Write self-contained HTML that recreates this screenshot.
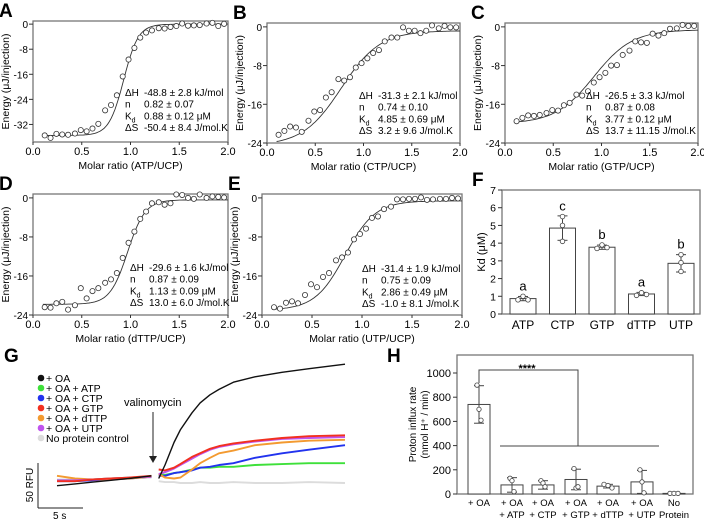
<!DOCTYPE html>
<html><head><meta charset="utf-8"><style>
body{margin:0;background:#fff}
svg{display:block;font-family:"Liberation Sans",Arial,sans-serif}
</style></head><body>
<svg id="fig" width="704" height="521" viewBox="0 0 704 521" xmlns="http://www.w3.org/2000/svg"></svg>
<script>
// ---------- ITC data ----------
const molarX=[0.12,0.18,0.24,0.3,0.36,0.43,0.49,0.55,0.61,0.67,0.74,0.8,0.86,0.92,0.98,1.04,1.1,1.16,1.22,1.29,1.35,1.41,1.47,1.53,1.59,1.65,1.71,1.78,1.84,1.9,1.96];
const itcA=[-35.5,-36.3,-35,-35.2,-35.3,-34.9,-33.8,-34.2,-33.3,-31.8,-27.5,-25.8,-22.7,-16.7,-11.3,-7.6,-4.3,-2.7,-2.0,-1.3,-1.4,-0.9,-0.6,0.2,-0.5,-0.4,-0.3,0.2,0.4,-0.6,0.1];
const itcB=[-22.3,-21.5,-20.6,-20.8,-21.7,-19.4,-17.5,-17.2,-14.6,-13.5,-10.8,-11.1,-10.4,-8.4,-7.5,-6.5,-5.4,-4.8,-3.0,-2.2,-2.2,-0.1,-0.8,-0.8,-1.3,-0.8,0.3,-0.3,0.2,-0.1,-0.1];
const itcC=[-19.5,-18.8,-18.3,-18.4,-18.2,-17.8,-17.2,-17.3,-16.2,-15.7,-14,-14.2,-13.3,-11.5,-10.4,-9.5,-8,-7.9,-5.8,-4.9,-3.0,-3.2,-3.3,-1.4,-1.8,-1.3,-0.4,-0.3,0.4,0.2,0.2];
const itcD=[-22.4,-22.5,-21.6,-21.3,-22.9,-22.0,-18.5,-20.6,-19.1,-18.5,-17.4,-16.7,-15.4,-12.3,-9.2,-6.9,-4.3,-2.8,-1.1,-0.9,-1.4,-1.1,0.7,0.6,0.0,-0.2,0.7,0.0,0.3,0.2,0.1];
const itcE=[-22.4,-22.7,-21.5,-21.2,-21.6,-19.9,-17.7,-18.3,-16.2,-15.4,-12.8,-12.2,-11.2,-8.5,-7.4,-6.3,-4.1,-3.8,-2.3,-1.8,-0.3,-0.3,-0.2,-0.2,0.1,-0.4,-0.3,-0.2,-0.2,0.0,-0.1];
// fit params: center, width, bottom, top
const fitA=[0.93,0.075,-35.5,0], fitB=[0.77,0.2,-24.5,-0.8], fitC=[0.92,0.2,-20,-0.6], fitD=[0.97,0.09,-21.8,-0.4], fitE=[0.83,0.15,-23,-0.6];
const xTicksITC=[0,0.5,1,1.5,2];
// ---------- F data ----------
const fCats=["ATP","CTP","GTP","dTTP","UTP"];
const fMeans=[0.87,4.85,3.77,1.13,2.86];
const fPts=[[0.8,1.0,0.8],[4.1,5.0,5.5],[3.7,3.9,3.75],[1.05,1.2,1.1],[2.4,2.9,3.35]];
const fSD=[0.12,0.69,0.12,0.09,0.49];
const fLetters=["a","c","b","a","b"];
const fTicks=[0,1,2,3,4,5,6,7];
// ---------- G data (time s, RFU) ----------
const gPreT=[0,2,4,6,8,10.5];
const gPre={black:[-3,-1,1,3,5,8],green:[3,3,4,5,6,7],blue:[2,2,3,4,5,7],red:[2,2,4,5,6,8],orange:[8,5,4,4,5,7],purple:[3,3,4,5,6,7],gray:[4,4,4,5,5,6]};
const gPostT=[11.3,12,13,13.7,15,15.9,17,18,19.6,22,25,28,32];
const gPost={
 black:[5,20,45,59,78,89,98,104,112,118,123,127,132],
 green:[10,9,11,12,15,17,17,18,18,20,21,22,22],
 blue:[8,8,11,12,14,17,18,20,22,28,33,37,42],
 orange:[10,6,5,6,15,22,28,33,36,42,45,47,48],
 purple:[10,12,16,20,27,32,37,40,43,46,49,50,51],
 red:[15,14,17,21,29,33,38,41,44,47,50,52,53],
 gray:[2,1,1,0,0,1,0,0,1,0,0,1,0]};
const gColors={black:"#111",green:"#3ee03a",blue:"#2233ee",red:"#f2301f",orange:"#f39a30",purple:"#c053ee",gray:"#dcdcdc"};
const gLegend=[["black","+ OA"],["green","+ OA + ATP"],["blue","+ OA + CTP"],["red","+ OA + GTP"],["orange","+ OA + dTTP"],["purple","+ OA + UTP"],["gray","No protein control"]];
// ---------- H data ----------
const hCats=[["+ OA",""],["+ OA","+ ATP"],["+ OA","+ CTP"],["+ OA","+ GTP"],["+ OA","+ dTTP"],["+ OA","+ UTP"],["No","Protein"]];
const hMeans=[740,75,75,120,65,100,5];
const hPts=[[900,700,610],[130,110,20],[110,90,60],[210,50,60],[80,70,50],[200,100,10],[5,5,5]];
const hSD=[155,60,35,85,15,95,3];
const hTicks=[0,200,400,600,800,1000];

const NS="http://www.w3.org/2000/svg";
const svg=document.getElementById('fig');
function el(tag,attrs,parent,text){const e=document.createElementNS(NS,tag);for(const k in attrs)e.setAttribute(k,attrs[k]);if(text!==undefined)e.textContent=text;(parent||svg).appendChild(e);return e;}

function itcPanel(name,letter,box,ymin,ymax,yticks,data,fit,xlabel,ann,annPos){
  const g=el('g',{},svg);
  
  
  const [L,T,R,B]=box;
  const sx=v=>L+(v-0)/(2-0)*(R-L);
  const sy=v=>B-(v-ymin)/(ymax-ymin)*(B-T);
  const lt=el('text',{x:L-34,y:T-4,'font-size':19,'font-weight':'bold'},g,letter);
  
  
  const frame=el('rect',{x:L,y:T,width:R-L,height:B-T,fill:'none',stroke:'#777','stroke-width':1.3},g);
  
  
  yticks.forEach(v=>{el('line',{x1:L-4,x2:L,y1:sy(v),y2:sy(v),stroke:'#333'},g);
    const t=el('text',{x:L-5,y:sy(v)+4,'font-size':10,'text-anchor':'end'},g,v);
    
    });
  xTicksITC.forEach(v=>{el('line',{x1:sx(v),x2:sx(v),y1:B,y2:B+3,stroke:'#333'},g);
    const t=el('text',{x:sx(v),y:B+13,'font-size':11,'text-anchor':'middle'},g,v.toFixed(1));
    
    });
  const xt=el('text',{x:(L+R)/2,y:B+27,'font-size':10.5,'text-anchor':'middle'},g,xlabel);
  
  
  const yt=el('text',{x:0,y:0,'font-size':10.5,'text-anchor':'middle',transform:`translate(${L-24},${(T+B)/2}) rotate(-90)`},g,'Energy (μJ/injection)');
  
  
  let d='';for(let i=0;i<=100;i++){const x=0.1+i*0.019;const y=fit[2]+(fit[3]-fit[2])/(1+Math.exp(-(x-fit[0])/fit[1]));d+=(i?'L':'M')+sx(x).toFixed(1)+','+sy(y).toFixed(1);}
  const fl=el('path',{d:d,fill:'none',stroke:'#333','stroke-width':0.9},g);
  
  
  data.forEach((v,i)=>{const c=el('circle',{cx:sx(molarX[i]),cy:sy(v),r:2.6,fill:'#fff',stroke:'#333','stroke-width':0.8},g);
    
    });
  const labs=[['ΔH',ann[0]],['n',ann[1]],['K','d',ann[2]],['ΔS',ann[3]]];
  labs.forEach((r,i)=>{const y=annPos[1]+i*11.7;
    const t=el('text',{x:annPos[0],y:y,'font-size':10},g);
    
    
    if(r.length===3){t.textContent='K';el('tspan',{'font-size':7,dy:3},t,'d');}else t.textContent=r[0];
    const v=el('text',{x:annPos[0]+19,y:y,'font-size':10},g,r[r.length-1]);
    
    });
}
itcPanel('panel-a-itc-atp','A',[33,21,228,142],-37.6,1,[0,-8,-16,-24,-32],itcA,fitA,'Molar ratio (ATP/UCP)',['-48.8 ± 2.8 kJ/mol','0.82 ± 0.07','0.88 ± 0.12 μM','-50.4 ± 8.4 J/mol.K'],[125,96]);
itcPanel('panel-b-itc-ctp','B',[267,23,460,143],-24,0.8,[0,-8,-16,-24],itcB,fitB,'Molar ratio (CTP/UCP)',['-31.3 ± 2.1 kJ/mol','0.74 ± 0.10','4.85 ± 0.69 μM','3.2 ± 9.6 J/mol.K'],[359,99]);
itcPanel('panel-c-itc-gtp','C',[505,23,698,143],-24,0.8,[0,-8,-16,-24],itcC,fitC,'Molar ratio (GTP/UCP)',['-26.5 ± 3.3 kJ/mol','0.87 ± 0.08','3.77 ± 0.12 μM','13.7 ± 11.15 J/mol.K'],[586,99]);
itcPanel('panel-d-itc-dttp','D',[33,194,228,315],-24,0.8,[0,-8,-16,-24],itcD,fitD,'Molar ratio (dTTP/UCP)',['-29.6 ± 1.6 kJ/mol','0.87 ± 0.09','1.13 ± 0.09 μM','13.0 ± 6.0 J/mol.K'],[130,271]);
itcPanel('panel-e-itc-utp','E',[262,194,462,315],-24,0.8,[0,-8,-16,-24],itcE,fitE,'Molar ratio (UTP/UCP)',['-31.4 ± 1.9 kJ/mol','0.75 ± 0.09','2.86 ± 0.49 μM','-1.0 ± 8.1 J/mol.K'],[362,272]);

// ---------- Panel F ----------
(function(){
  const g=el('g',{},svg);
  
  
  const L=502,R=700,T=190,B=314;
  const sy=v=>B-v/7*(B-T);
  const cx=i=>L+21+i*39.5;
  const lt=el('text',{x:472,y:186,'font-size':19,'font-weight':'bold'},g,'F');
  
  
  el('rect',{x:L,y:T,width:R-L,height:B-T,fill:'none',stroke:'#777','stroke-width':1.3},g);
  fTicks.forEach(v=>{el('line',{x1:L-4,x2:L,y1:sy(v),y2:sy(v),stroke:'#333'},g);
    const t=el('text',{x:L-6,y:sy(v)+4,'font-size':10.5,'text-anchor':'end'},g,v);
    
    });
  const yt=el('text',{x:0,y:0,'font-size':11,'text-anchor':'middle',transform:`translate(485,${(T+B)/2}) rotate(-90)`},g,'Kd (μM)');
  
  
  fCats.forEach((c,i)=>{const x=cx(i);
    const b=el('rect',{x:x-13,y:sy(fMeans[i]),width:26,height:B-sy(fMeans[i]),fill:'#fff',stroke:'#444','stroke-width':1},g);
    
    
    const hi=sy(fMeans[i]+fSD[i]),lo=sy(fMeans[i]-fSD[i]);
    el('line',{x1:x,x2:x,y1:hi,y2:lo,stroke:'#444'},g);
    el('line',{x1:x-5,x2:x+5,y1:hi,y2:hi,stroke:'#444'},g);
    el('line',{x1:x-5,x2:x+5,y1:lo,y2:lo,stroke:'#444'},g);
    fPts[i].forEach((p,j)=>{const d=el('circle',{cx:x+(j-1)*5*(fSD[i]<0.2?1:0),cy:sy(p),r:2.3,fill:'#fff',stroke:'#444','stroke-width':0.8},g);
      
      });
    const lt2=el('text',{x:x,y:sy(Math.max(...fPts[i]))-6,'font-size':13,'text-anchor':'middle'},g,fLetters[i]);
    
    
    const t=el('text',{x:x,y:B+15,'font-size':12,'text-anchor':'middle'},g,c);
    
    });
})();

// ---------- Panel G ----------
(function(){
  const g=el('g',{},svg);
  
  
  const sx=t=>57+t*9, sy=v=>483-v*0.9;
  const lt=el('text',{x:4,y:362,'font-size':19,'font-weight':'bold'},g,'G');
  
  
  const order=['gray','green','blue','orange','purple','red','black'];
  order.forEach(k=>{
    [[gPreT,gPre[k]],[gPostT,gPost[k]]].forEach(([ts,vs])=>{
      const pts=ts.map((t,i)=>sx(t).toFixed(1)+','+sy(vs[i]).toFixed(1)).join(' ');
      const p=el('polyline',{points:pts,fill:'none',stroke:gColors[k],'stroke-width':k==='black'?1.4:1.9,'stroke-linejoin':'round'},g);
      
      
    });
  });
  gLegend.forEach(([k,lab],i)=>{const y=378+i*10;
    const d=el('circle',{cx:41,cy:y,r:3.3,fill:gColors[k]},g);
    
    
    const t=el('text',{x:46,y:y+4,'font-size':10.5},g,lab);
    
    });
  const v=el('text',{x:124,y:406,'font-size':11},g,'valinomycin');
  
  
  el('line',{x1:153,x2:153,y1:412,y2:458,stroke:'#222'},g);
  el('path',{d:'M149,456 L153,463 L157,456 Z',fill:'#222'},g);
  el('line',{x1:38,x2:38,y1:463,y2:508,stroke:'#222'},g);
  el('line',{x1:38,x2:83,y1:508,y2:508,stroke:'#222'},g);
  const r=el('text',{x:0,y:0,'font-size':10,'text-anchor':'middle',transform:'translate(33,485) rotate(-90)'},g,'50 RFU');
  
  
  const s=el('text',{x:53,y:519,'font-size':10},g,'5 s');
  
  
})();

// ---------- Panel H ----------
(function(){
  const g=el('g',{},svg);
  
  
  const L=457,R=693,T=355,B=494;
  const sy=v=>B-v/1000*121;
  const xs=[479,512,543,576,608,642,674];
  const lt=el('text',{x:387,y:362,'font-size':19,'font-weight':'bold'},g,'H');
  
  
  el('rect',{x:L,y:T,width:R-L,height:B-T,fill:'none',stroke:'#777','stroke-width':1.3},g);
  hTicks.forEach(v=>{el('line',{x1:L-4,x2:L,y1:sy(v),y2:sy(v),stroke:'#333'},g);
    const t=el('text',{x:L-6,y:sy(v)+4,'font-size':11,'text-anchor':'end'},g,v);
    
    });
  const y1=el('text',{x:0,y:0,'font-size':10,'text-anchor':'middle',transform:`translate(416,${(T+B)/2}) rotate(-90)`},g,'Proton influx rate');
  
  
  const y2=el('text',{x:0,y:0,'font-size':10,'text-anchor':'middle',transform:`translate(428,${(T+B)/2}) rotate(-90)`},g,'(nmol H⁺ / min)');
  
  
  hCats.forEach((c,i)=>{const x=xs[i];
    const b=el('rect',{x:x-11,y:sy(hMeans[i]),width:22,height:B-sy(hMeans[i]),fill:'#fff',stroke:'#444'},g);
    
    
    const hi=sy(hMeans[i]+hSD[i]),lo=sy(Math.max(0,hMeans[i]-hSD[i]));
    el('line',{x1:x,x2:x,y1:hi,y2:lo,stroke:'#444'},g);
    el('line',{x1:x-5,x2:x+5,y1:hi,y2:hi,stroke:'#444'},g);
    el('line',{x1:x-5,x2:x+5,y1:lo,y2:lo,stroke:'#444'},g);
    hPts[i].forEach((p,j)=>{const d=el('circle',{cx:x+(j-1)*(i===6||i===4?4:2),cy:sy(p),r:2.2,fill:'#fff',stroke:'#444','stroke-width':0.8},g);
      
      });
    c.forEach((s,k)=>{const t=el('text',{x:x,y:B+12+k*12,'font-size':9.5,'text-anchor':'middle'},g,s);
      
      });});
  el('path',{d:`M479,383 L479,370 L578,370 L578,446`,fill:'none',stroke:'#444'},g);
  el('path',{d:`M500,446 L659,446`,fill:'none',stroke:'#444'},g);
  const st=el('text',{x:527,y:372,'font-size':11,'font-weight':'bold','text-anchor':'middle'},g,'****');
  
  
})();
</script>
</body></html>
